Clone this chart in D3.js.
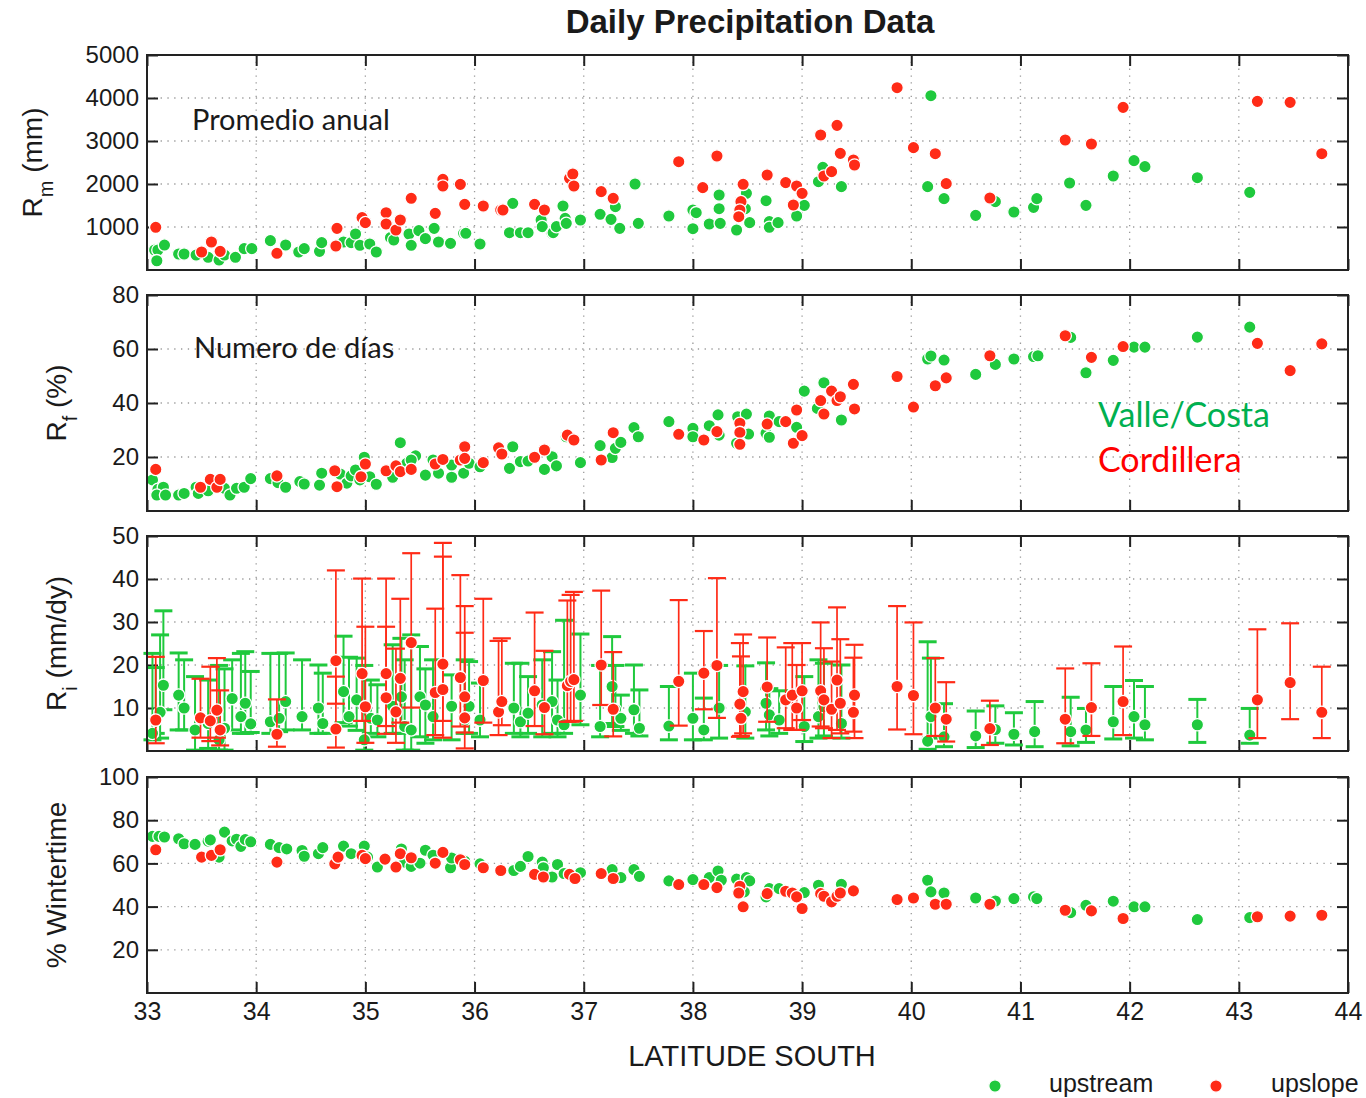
<!DOCTYPE html>
<html>
<head>
<meta charset="utf-8">
<script src="https://cdn.jsdelivr.net/npm/d3@7"></script>
<style>
  body { margin: 0; background: #fff; }
  svg text { font-family: "Liberation Sans", Arial, Helvetica, sans-serif; fill: #1a1a1a; }
</style>
</head>
<body>
<div id="chart"></div>
<script>
// x axis: latitude south
var latTicks = [33, 34, 35, 36, 37, 38, 39, 40, 41, 42, 43, 44];

// panel 1: R_m (mm), [lat, value]
var rmUpstream = [[33.07,465],[33.10,465],[33.09,216],[33.16,580],[33.29,372],[33.34,372],[33.45,349],[33.56,295],[33.66,233],[33.71,349],[33.81,295],[33.89,496],[33.96,496],[34.13,682],[34.27,581],[34.39,419],[34.44,496],[34.58,434],[34.60,636],[34.80,651],[34.87,636],[34.91,837],[34.95,574],[35.04,605],[35.10,419],[35.23,752],[35.26,698],[35.40,837],[35.42,574],[35.49,915],[35.55,729],[35.63,969],[35.67,651],[35.78,620],[35.90,853],[35.92,853],[36.05,605],[36.32,868],[36.35,1550],[36.42,868],[36.49,868],[36.61,1163],[36.62,1008],[36.71,853],[36.72,868],[36.75,1008],[36.81,1488],[36.83,1202],[36.84,1085],[36.97,1163],[37.15,1295],[37.25,1178],[37.29,1473],[37.33,969],[37.47,2000],[37.50,1085],[37.78,1256],[38.00,1395],[38.03,1333],[38.00,961],[38.15,1070],[38.24,1744],[38.24,1426],[38.25,1085],[38.40,930],[38.49,1783],[38.48,1426],[38.52,1101],[38.67,1612],[38.70,1124],[38.70,993],[38.78,1101],[38.95,1256],[39.02,1504],[39.15,2054],[39.19,2388],[39.36,1938],[40.18,4054],[40.15,1938],[40.30,1659],[40.59,1271],[40.77,1589],[40.94,1349],[41.12,1457],[41.15,1659],[41.45,2023],[41.60,1504],[41.85,2186],[42.04,2543],[42.14,2403],[42.62,2147],[43.10,1806]];
var rmUpslope = [[33.08,993],[33.50,419],[33.59,651],[33.67,434],[34.19,388],[34.73,558],[34.74,969],[34.97,1217],[35.00,1101],[35.19,1333],[35.19,1070],[35.28,930],[35.32,1163],[35.42,1667],[35.64,1318],[35.71,2109],[35.71,1953],[35.87,1992],[35.91,1527],[36.08,1488],[36.24,1395],[36.26,1395],[36.55,1527],[36.64,1395],[36.87,2132],[36.90,2233],[36.91,1953],[37.16,1822],[37.27,1667],[37.87,2519],[38.09,1915],[38.22,2651],[38.46,1993],[38.44,1589],[38.43,1395],[38.42,1240],[38.68,2209],[38.85,2031],[38.95,1953],[39.00,1783],[38.92,1512],[39.17,3140],[39.32,3364],[39.35,2713],[39.47,2558],[39.48,2442],[39.20,2186],[39.27,2287],[39.87,4240],[40.02,2845],[40.22,2705],[40.32,2008],[40.72,1674],[41.41,3023],[41.65,2930],[41.94,3783],[43.17,3922],[43.47,3899],[43.76,2705]];

// panel 2: R_f (%), [lat, value]
var rfUpstream = [[33.05,11.5],[33.10,8.0],[33.15,8.8],[33.09,5.9],[33.17,5.9],[33.29,5.9],[33.34,6.5],[33.45,8.8],[33.47,6.5],[33.56,7.5],[33.71,8.4],[33.76,5.9],[33.82,8.4],[33.89,8.8],[33.95,12.0],[34.13,12.0],[34.20,10.5],[34.27,8.8],[34.40,10.9],[34.44,10.0],[34.58,9.6],[34.60,14.0],[34.77,13.7],[34.83,10.3],[34.87,13.0],[34.91,15.2],[34.95,11.5],[34.99,19.9],[35.04,12.7],[35.10,9.9],[35.25,12.5],[35.32,25.3],[35.38,17.7],[35.46,20.4],[35.42,18.9],[35.55,13.3],[35.62,18.9],[35.67,14.0],[35.79,17.0],[35.79,12.5],[35.90,14.0],[35.95,17.7],[36.05,16.4],[36.32,15.8],[36.35,23.8],[36.42,18.3],[36.49,18.5],[36.64,15.4],[36.71,20.1],[36.75,16.7],[36.84,27.5],[36.97,17.9],[37.15,24.2],[37.26,19.8],[37.29,23.2],[37.34,25.4],[37.46,30.9],[37.50,27.5],[37.78,33.1],[38.00,30.6],[38.00,27.5],[38.15,31.6],[38.23,35.6],[38.24,28.1],[38.41,34.9],[38.49,35.9],[38.40,25.1],[38.51,28.5],[38.67,28.8],[38.70,35.2],[38.70,27.3],[38.79,33.1],[38.95,31.0],[39.02,44.4],[39.14,38.0],[39.20,47.5],[39.36,33.7],[40.15,56.3],[40.18,57.4],[40.30,55.9],[40.59,50.6],[40.77,54.3],[40.94,56.3],[41.12,57.2],[41.16,57.5],[41.46,64.3],[41.60,51.2],[41.85,55.8],[42.04,60.7],[42.14,60.7],[42.62,64.4],[43.10,68.1]];
var rfUpslope = [[33.08,15.4],[33.49,8.8],[33.58,11.7],[33.64,8.8],[33.67,11.7],[34.19,13.0],[34.72,14.9],[34.74,9.0],[34.96,12.7],[35.00,17.4],[35.19,14.9],[35.28,16.7],[35.32,14.6],[35.42,15.4],[35.64,17.4],[35.71,19.1],[35.87,18.9],[35.91,23.8],[35.91,19.5],[36.08,17.9],[36.22,23.4],[36.25,21.1],[36.55,19.9],[36.64,22.6],[36.85,28.1],[36.91,26.3],[37.16,18.9],[37.27,29.0],[37.87,28.4],[38.10,26.3],[38.22,29.4],[38.43,32.5],[38.43,29.1],[38.43,24.7],[38.68,32.2],[38.85,33.1],[38.92,25.1],[39.00,27.9],[38.95,37.4],[39.17,40.9],[39.20,35.9],[39.27,44.4],[39.32,40.9],[39.35,42.3],[39.47,46.9],[39.48,37.8],[39.87,49.8],[40.02,38.5],[40.22,46.4],[40.32,49.3],[40.72,57.5],[41.41,64.9],[41.65,56.9],[41.94,60.9],[43.17,62.1],[43.47,52.0],[43.76,61.9]];

// panel 3: R_i (mm/dy), [lat, value, low, high]
var riUpstream = [[33.05,4.1,2.6,22.7],[33.08,7.2,4.1,19.4],[33.12,9,3,27],[33.15,15.3,9.6,32.6],[33.29,13.0,4.9,22.8],[33.34,10.0,4.9,21.2],[33.44,4.9,0.2,17.3],[33.56,6.4,0.6,16.5],[33.66,2.6,0.2,19.9],[33.71,5.3,0.2,19.1],[33.78,12.2,4.9,21.2],[33.86,8.0,4.1,22.7],[33.90,11.1,4.1,23.1],[33.95,6.3,4.3,18.5],[34.13,6.8,4.1,22.7],[34.21,7.6,4.5,22.7],[34.27,11.5,4.9,22.8],[34.42,8.0,4.9,21.2],[34.57,10.0,4.1,20.0],[34.61,6.4,4.1,18.1],[34.80,13.8,6.6,26.7],[34.85,8.0,5.8,21.8],[34.92,11.9,4.8,21.6],[34.99,2.6,0.2,19.9],[35.05,7.6,4.1,16.5],[35.11,7.2,3.3,15.4],[35.25,10.4,4.1,24.7],[35.33,12.6,4.1,26.2],[35.36,5.7,0.2,21.2],[35.42,4.9,0.2,27.0],[35.50,12.6,3.3,24.3],[35.55,10.7,1.8,19.1],[35.62,8.0,2.6,21.2],[35.79,10.4,2.6,17.7],[35.91,7.2,4.1,21.2],[35.95,10.4,4.1,20.8],[36.05,7.2,3.3,15.8],[36.36,10.0,4.1,20.4],[36.42,6.8,3.3,20.4],[36.49,8.8,4.1,17.3],[36.62,10.7,3.3,21.2],[36.71,11.5,4.1,23.1],[36.76,7.2,3.3,16.5],[36.82,6.1,4.1,30.4],[36.97,13.0,6.1,27.2],[37.15,5.7,3.3,19.9],[37.26,15.0,6.4,26.6],[37.29,9.6,5.7,19.9],[37.34,7.6,4.8,13.0],[37.46,9.6,4.1,20.0],[37.51,5.3,3.5,14.2],[37.78,5.8,2.6,15.0],[38.00,7.6,2.6,18.1],[38.10,4.9,2.6,12.3],[38.24,10.0,3.0,19.9],[38.48,9.1,3.0,19.8],[38.67,11.1,4.9,20.5],[38.70,8.4,3.5,14.5],[38.79,7.2,4.1,14.0],[39.02,5.7,2.2,17.3],[39.15,8.0,3.0,21.2],[39.20,10.3,3.5,20.4],[39.36,6.4,3.0,20.0],[40.15,2.3,0.4,25.4],[40.18,8.0,3.0,21.6],[40.30,3.3,1.0,11.0],[40.59,3.5,0.8,9.3],[40.77,5.0,1.8,10.5],[40.94,3.9,1.4,8.9],[41.13,4.5,1.0,11.5],[41.46,4.5,1.2,12.5],[41.60,4.9,2.0,9.9],[41.85,6.8,2.8,15.0],[42.04,8.0,3.0,16.4],[42.14,6.1,2.6,15.0],[42.62,6.1,2.0,12.0],[43.10,3.7,1.8,9.9]];
var riUpslope = [[33.08,7.2,1.8,21.9],[33.49,7.7,3.1,16.8],[33.58,7.0,2.3,19.6],[33.64,9.5,3.1,21.6],[33.67,4.9,1.3,14.1],[34.19,3.9,1.0,12.0],[34.73,21.0,11.0,42.0],[34.73,5.1,0.8,17.3],[34.97,18.0,7.0,40.1],[35.00,10.3,1.9,28.9],[35.19,18.0,5.8,40.1],[35.19,12.4,4.0,28.9],[35.28,9.1,1.9,23.8],[35.32,16.9,6.6,35.4],[35.42,25.2,10.1,46.0],[35.64,13.6,3.7,33.1],[35.71,20.2,3.1,48.4],[35.71,14.3,7.0,45.2],[35.87,17.1,5.7,40.9],[35.91,12.6,4.3,33.7],[35.91,7.7,0.6,27.5],[36.08,16.4,6.6,35.4],[36.22,9.1,3.7,25.6],[36.25,11.5,6.0,26.2],[36.55,14.0,5.8,32.2],[36.64,10.1,3.9,23.3],[36.85,15.2,6.8,35.0],[36.88,16.2,6.8,36.3],[36.91,16.6,7.0,37.0],[37.16,20.0,10.7,37.3],[37.27,9.7,3.4,23.0],[37.87,16.2,5.9,35.1],[38.10,18.1,9.7,27.9],[38.22,19.9,7.7,40.2],[38.43,10.9,3.3,25.1],[38.46,13.8,4.1,27.1],[38.44,7.6,3.5,22.0],[38.68,14.9,6.8,26.4],[38.85,11.9,5.3,24.1],[38.91,13.0,4.9,25.1],[38.95,10.0,4.9,20.0],[39.00,14.0,7.2,25.1],[39.17,14.0,5.7,29.9],[39.20,11.9,5.3,23.9],[39.27,9.7,3.0,20.8],[39.32,16.5,4.9,33.4],[39.35,11.1,4.1,26.0],[39.47,9.0,4.5,21.7],[39.48,13.0,3.0,24.7],[39.87,15.0,5.0,33.7],[40.02,12.9,3.9,29.9],[40.22,10.0,3.5,21.6],[40.32,7.4,2.2,16.0],[40.72,5.2,1.4,11.7],[41.41,7.4,1.8,19.2],[41.65,10.1,3.5,20.4],[41.94,11.5,3.7,24.3],[43.17,11.9,3.0,28.3],[43.47,15.9,7.4,29.7],[43.76,9.0,3.0,19.6]];

// panel 4: % Wintertime, [lat, value]
var wtUpstream = [[33.05,72.5],[33.11,72.5],[33.16,72.2],[33.29,71.4],[33.34,69.1],[33.44,68.8],[33.56,70.3],[33.58,70.9],[33.66,62.9],[33.71,74.5],[33.78,70.4],[33.82,71.2],[33.86,67.9],[33.90,71.0],[33.95,70.0],[34.13,68.8],[34.21,67.3],[34.28,66.7],[34.42,66.0],[34.44,63.3],[34.57,64.5],[34.61,67.3],[34.80,68.0],[34.87,64.5],[34.99,68.0],[35.02,62.9],[35.11,58.3],[35.33,66.7],[35.36,60.6],[35.42,58.6],[35.50,60.1],[35.55,66.1],[35.62,63.8],[35.78,58.0],[35.79,62.5],[35.91,61.0],[36.05,59.8],[36.36,56.7],[36.42,58.6],[36.49,63.2],[36.62,60.6],[36.63,58.0],[36.71,53.7],[36.76,59.5],[36.82,55.3],[36.97,55.7],[37.26,57.1],[37.34,53.4],[37.46,57.1],[37.51,54.0],[37.78,51.9],[38.00,52.5],[38.15,53.4],[38.23,56.5],[38.26,52.2],[38.40,52.7],[38.49,53.4],[38.52,51.9],[38.47,46.8],[38.67,44.5],[38.70,48.3],[38.79,48.3],[39.02,46.5],[39.15,49.9],[39.36,50.3],[40.15,52.2],[40.18,46.8],[40.30,46.3],[40.59,44.0],[40.77,42.6],[40.94,43.7],[41.12,44.5],[41.15,43.7],[41.46,37.2],[41.60,40.6],[41.85,42.5],[42.04,39.9],[42.14,39.9],[42.62,34.0],[43.10,34.9]];
var wtUpslope = [[33.08,66.3],[33.50,62.9],[33.59,63.7],[33.67,66.3],[34.19,60.6],[34.72,59.8],[34.75,62.9],[34.97,63.7],[35.00,62.2],[35.18,62.0],[35.28,58.3],[35.32,64.5],[35.42,62.6],[35.64,60.1],[35.71,65.1],[35.87,61.7],[35.91,59.5],[36.08,58.0],[36.24,56.7],[36.55,54.9],[36.63,53.7],[36.87,54.9],[36.92,53.0],[37.16,55.3],[37.27,53.0],[37.87,50.2],[38.10,50.2],[38.22,48.8],[38.43,49.4],[38.42,46.3],[38.46,39.9],[38.68,46.0],[38.85,47.1],[38.91,46.3],[38.95,44.5],[39.00,39.1],[39.17,46.0],[39.20,44.8],[39.27,42.2],[39.32,44.8],[39.35,46.3],[39.47,47.3],[39.87,43.3],[40.02,44.0],[40.22,41.1],[40.32,41.1],[40.72,41.1],[41.41,38.3],[41.65,38.0],[41.94,34.5],[43.17,35.3],[43.47,35.6],[43.76,36.0]];

var rmTicks = [1000, 2000, 3000, 4000, 5000];
var rfTicks = [20, 40, 60, 80];
var riTicks = [10, 20, 30, 40, 50];
var wtTicks = [20, 40, 60, 80, 100];

var green = "#1fc93d", red = "#ff2b17";

var width = 1366, height = 1098;
var left = 147, right = 1348;
var innerWidth = right - left;

var svg = d3.select("#chart").append("svg")
  .attr("width", width)
  .attr("height", height);

var xScale = d3.scaleLinear().domain([33, 44]).range([0, innerWidth]);

//title
svg.append("text")
  .attr("x", 750).attr("y", 33)
  .attr("text-anchor", "middle")
  .style("font-size", "33px").style("font-weight", "bold")
  .text("Daily Precipitation Data");

var panels = [
  {top: 55, bottom: 270, max: 5000, ticks: rmTicks, up: rmUpstream, sl: rmUpslope, label: ["R", "m", " (mm)"], lx: 42},
  {top: 295, bottom: 511, max: 80, ticks: rfTicks, up: rfUpstream, sl: rfUpslope, label: ["R", "f", " (%)"], lx: 66},
  {top: 536, bottom: 751, max: 50, ticks: riTicks, up: riUpstream, sl: riUpslope, label: ["R", "i", " (mm/dy)"], lx: 66, bars: true},
  {top: 777, bottom: 993, max: 100, ticks: wtTicks, up: wtUpstream, sl: wtUpslope, label: ["% Wintertime"], lx: 66}
];

panels.forEach(function(p, idx){
  var h = p.bottom - p.top;
  var yScale = d3.scaleLinear().domain([0, p.max]).range([h, 0]);

  var g = svg.append("g").attr("transform", "translate(" + left + "," + p.top + ")");

  //dotted grid
  g.selectAll(".vgrid").data(latTicks.slice(1, -1)).enter().append("line")
    .attr("x1", function(d){ return xScale(d); }).attr("x2", function(d){ return xScale(d); })
    .attr("y1", 0).attr("y2", h)
    .attr("stroke", "#9a9a9a").attr("stroke-width", 1.3).attr("stroke-dasharray", "1.3,5.5");
  g.selectAll(".hgrid").data(p.ticks.filter(function(d){ return d < p.max; })).enter().append("line")
    .attr("x1", 0).attr("x2", innerWidth)
    .attr("y1", function(d){ return yScale(d); }).attr("y2", function(d){ return yScale(d); })
    .attr("stroke", "#9a9a9a").attr("stroke-width", 1.3).attr("stroke-dasharray", "1.3,5.5");

  //inward tick marks on all four sides
  var tickAxes = [
    [d3.axisBottom(xScale).tickValues(latTicks), "translate(0," + h + ")"],
    [d3.axisTop(xScale).tickValues(latTicks), "translate(0,0)"],
    [d3.axisLeft(yScale).tickValues(p.ticks), "translate(0,0)"],
    [d3.axisRight(yScale).tickValues(p.ticks), "translate(" + innerWidth + ",0)"]
  ];
  tickAxes.forEach(function(a){
    var ax = g.append("g").attr("transform", a[1])
      .call(a[0].tickSize(-11).tickFormat(""));
    ax.select(".domain").remove();
    ax.selectAll("line").attr("stroke", "#222").attr("stroke-width", 2);
  });

  //y tick labels
  var yAx = g.append("g")
    .call(d3.axisLeft(yScale).tickValues(p.ticks).tickFormat(d3.format("d")).tickSize(0).tickPadding(8));
  yAx.select(".domain").remove();
  yAx.selectAll("text").style("font-size", "24px").attr("fill", "#1a1a1a");

  //y axis title
  var lab = svg.append("text")
    .attr("transform", "translate(" + p.lx + "," + (p.top + h / 2) + ") rotate(-90)")
    .attr("text-anchor", "middle")
    .style("font-size", "28px");
  lab.append("tspan").text(p.label[0]);
  if (p.label.length > 1) {
    lab.append("tspan").attr("baseline-shift", "sub").style("font-size", "20px").text(p.label[1]);
    lab.append("tspan").text(p.label[2]);
  }

  var drawSeries = function(data, color, thick){
    if (p.bars) {
      var eb = g.append("g").attr("stroke", color);
      eb.selectAll(".ebar").data(data).enter().append("line")
        .attr("x1", function(d){ return xScale(d[0]); }).attr("x2", function(d){ return xScale(d[0]); })
        .attr("y1", function(d){ return yScale(d[2]); }).attr("y2", function(d){ return yScale(d[3]); })
        .attr("stroke-width", thick ? 2 : 1.7);
      [2, 3].forEach(function(k){
        eb.selectAll(".cap" + k).data(data).enter().append("line")
          .attr("x1", function(d){ return xScale(d[0]) - 9; }).attr("x2", function(d){ return xScale(d[0]) + 9; })
          .attr("y1", function(d){ return yScale(d[k]); }).attr("y2", function(d){ return yScale(d[k]); })
          .attr("stroke-width", thick ? 3 : 2.2);
      });
    }
    g.selectAll(".pt").data(data).enter().append("circle")
      .attr("cx", function(d){ return xScale(d[0]); })
      .attr("cy", function(d){ return yScale(d[1]); })
      .attr("r", 6.2)
      .attr("fill", color)
      .attr("stroke", "#fff").attr("stroke-width", 1.3);
  };
  drawSeries(p.up, green, true);
  drawSeries(p.sl, red, false);

  //frame
  g.append("rect").attr("width", innerWidth).attr("height", h)
    .attr("fill", "none").attr("stroke", "#222").attr("stroke-width", 2);

  //latitude labels under last panel
  if (idx === panels.length - 1) {
    var xAx = g.append("g").attr("transform", "translate(0," + h + ")")
      .call(d3.axisBottom(xScale).tickValues(latTicks).tickSize(0).tickPadding(9));
    xAx.select(".domain").remove();
    xAx.selectAll("text").style("font-size", "25px").attr("fill", "#1a1a1a");
  }
});

//annotations
svg.append("text").attr("x", 192).attr("y", 130)
  .style("font-family", "Lato, 'Open Sans', sans-serif").style("font-size", "29px").text("Promedio anual");
svg.append("text").attr("x", 194).attr("y", 358)
  .style("font-family", "Lato, 'Open Sans', sans-serif").style("font-size", "29px").text("Numero de días");
svg.append("text").attr("x", 1098).attr("y", 427)
  .style("font-family", "Lato, 'Open Sans', sans-serif").style("font-size", "34px").style("fill", "#00b050").text("Valle/Costa");
svg.append("text").attr("x", 1098).attr("y", 472)
  .style("font-family", "Lato, 'Open Sans', sans-serif").style("font-size", "34px").style("fill", "#ff0000").text("Cordillera");

//x axis title
svg.append("text").attr("x", 752).attr("y", 1066)
  .attr("text-anchor", "middle").style("font-size", "29px").text("LATITUDE SOUTH");

//legend
var legend = [["upstream", green, 995, 1049], ["upslope", red, 1216, 1271]];
legend.forEach(function(l){
  svg.append("circle").attr("cx", l[2]).attr("cy", 1086).attr("r", 6.2)
    .attr("fill", l[1]).attr("stroke", "#fff").attr("stroke-width", 1.3);
  svg.append("text").attr("x", l[3]).attr("y", 1092).style("font-size", "25px").text(l[0]);
});
</script>
</body>
</html>
